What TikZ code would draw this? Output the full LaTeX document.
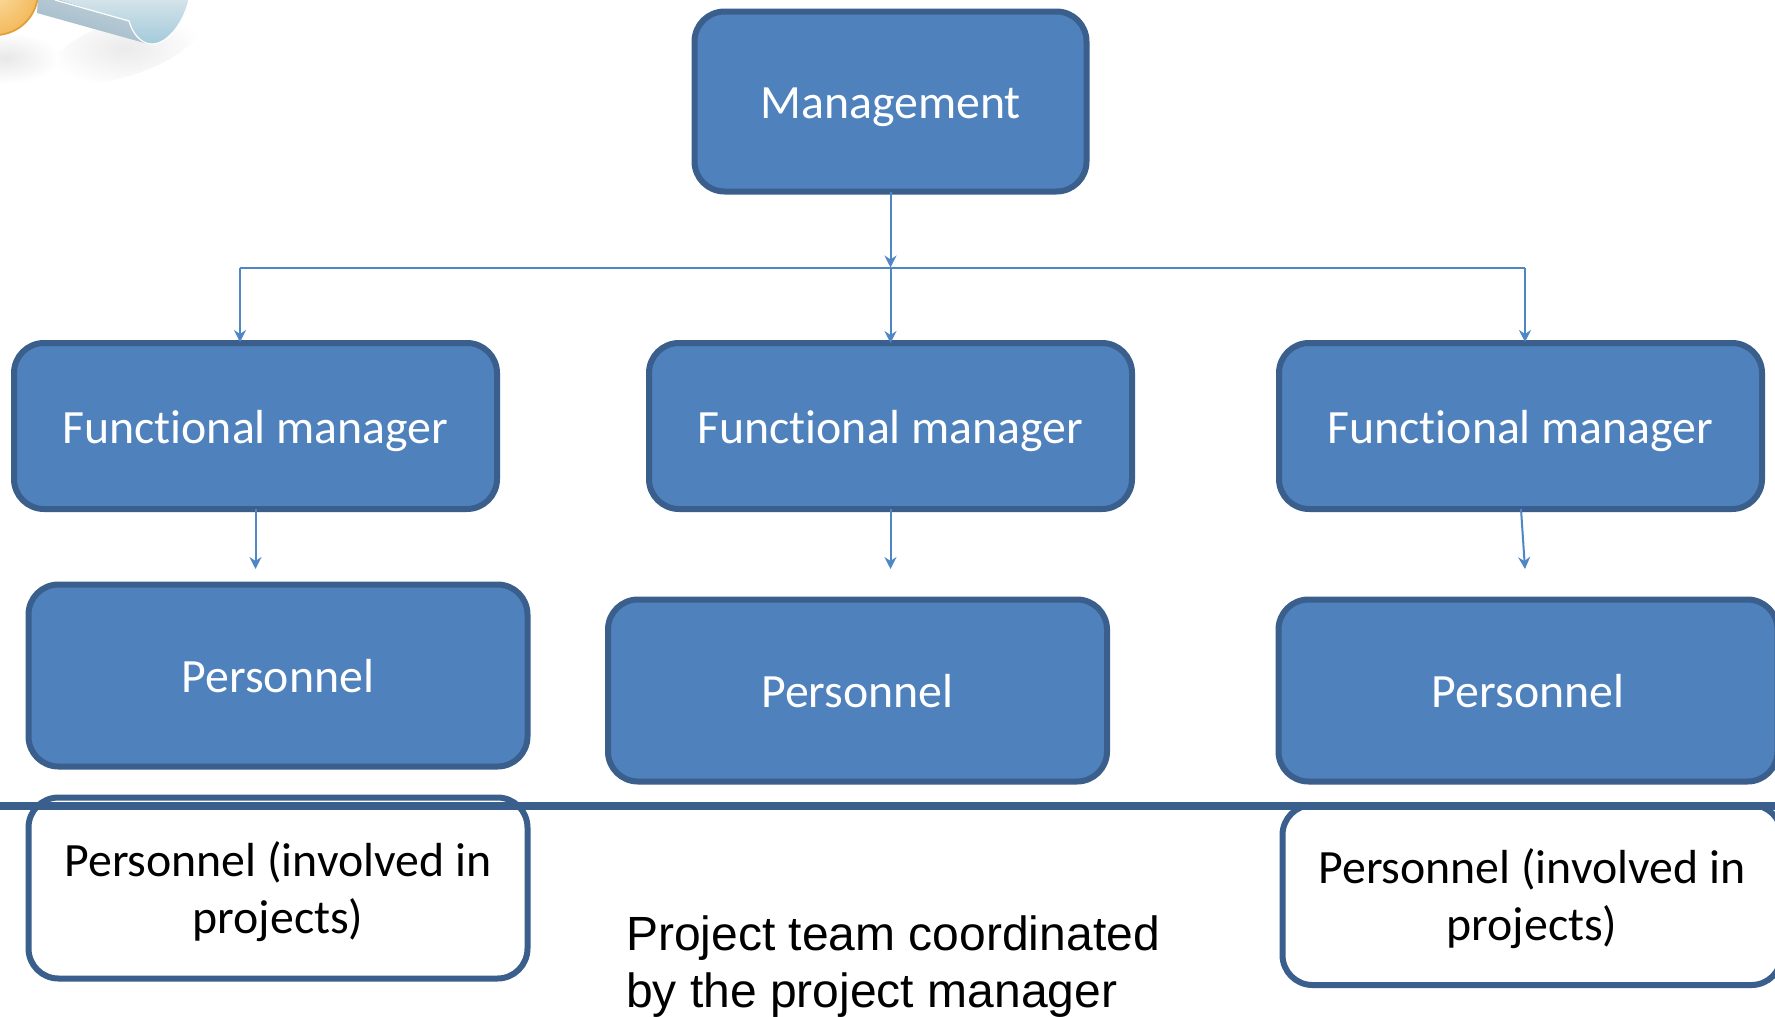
\documentclass[tikz,border=0pt]{standalone}
\usepackage{fontspec}
\setmainfont{Carlito}[Ligatures=NoCommon]
\newfontfamily\arialfont{Liberation Sans}
\usetikzlibrary{arrows.meta}
\definecolor{boxfill}{HTML}{4F81BD}
\definecolor{boxline}{HTML}{3A5F8C}
\definecolor{conn}{HTML}{4F86C6}
\definecolor{tubeA}{HTML}{D5E4EA}
\definecolor{tubeB}{HTML}{A3CADB}
\definecolor{bandA}{HTML}{C3D3DC}
\definecolor{bandB}{HTML}{9CB6C6}
\definecolor{coinA}{HTML}{FBDCA0}
\definecolor{coinB}{HTML}{F3B95C}
\definecolor{coinC}{HTML}{DD9E3C}
\tikzset{
  x=1pt,y=-1pt,
  basebox/.style={rectangle,rounded corners=30pt,line width=6pt,draw=boxline,outer sep=0pt,inner sep=0pt,align=center,font=\fontsize{47.8}{57}\selectfont},
  bluebox/.style={basebox,fill=boxfill,text=white,text height=34pt,text depth=0pt},
  whitebox/.style={basebox,fill=white,text=black},
  link/.style={draw=conn,line width=2pt,-{Stealth[length=12pt,width=12pt,inset=4pt]}},
  plain/.style={draw=conn,line width=2pt},
}
\begin{document}
\begin{tikzpicture}
\useasboundingbox (0,0) rectangle (1775,1017);
\clip (0,0) rectangle (1775,1017);
\fill[white] (0,0) rectangle (1775,1017);
% decorative clip-art corner
\shade[inner color=black!8,outer color=white,rotate around={18:(125,48)}] (125,48) ellipse (78 and 28);
\shade[inner color=black!9,outer color=white] (5,58) ellipse (55 and 26);
\shade[top color=bandA,bottom color=bandB,shading angle=-17] (38,-2) -- (55,-2) -- (129,21) .. controls (133,35) and (142,44) .. (152,44) -- (148,44) -- (37,13) -- cycle;
\shade[top color=tubeA,bottom color=tubeB] (55,-2) -- (129,21) .. controls (133,35) and (142,44) .. (152,44) .. controls (168,44) and (184,22) .. (189,-2) -- cycle;
\draw[white,line width=1.2pt] (55,0) -- (129,21) .. controls (133,35) and (142,44) .. (152,44) .. controls (168,44) and (184,22) .. (189,0);
\shade[inner color=coinA,outer color=coinB] (-5,-8) circle (44);
\draw[coinC,line width=1.5pt] (-5,-8) circle (43);
% boxes
\node[bluebox,minimum width=392pt,minimum height=180pt] (mgmt) at (890.5,101.5) {Management};
\node[bluebox,minimum width=483pt,minimum height=166pt] (fm1) at (255.5,426) {Functional manager};
\node[bluebox,minimum width=483pt,minimum height=166pt] (fm2) at (890.5,426) {Functional manager};
\node[bluebox,minimum width=483pt,minimum height=166pt] (fm3) at (1520.5,426) {Functional manager};
\node[bluebox,minimum width=499pt,minimum height=182pt] (p1) at (278,675.5) {Personnel};
\node[bluebox,minimum width=499pt,minimum height=182pt] (p2) at (857.5,690.5) {Personnel};
\node[bluebox,minimum width=499pt,minimum height=182pt] (p3) at (1528,690.5) {Personnel};
\node[whitebox,minimum width=499pt,minimum height=181pt] (w1) at (278,888) {\rule{0pt}{43pt}Personnel (involved in\\projects)};
\node[whitebox,minimum width=499pt,minimum height=180pt] (w3) at (1532,895) {\rule{0pt}{43pt}Personnel (involved in\\projects)};
% divider
\coordinate (divl) at (0,806);
\coordinate (divr) at (1775,806);
\draw[boxline,line width=8pt] (divl) -- (divr);
% bottom text
\node[anchor=north west,inner sep=0pt,align=left,font=\arialfont\fontsize{48}{57}\selectfont,text=black] (team) at (626,916) {Project team coordinated\\by the project manager};
% connectors
\coordinate (busl) at (240,267.5);
\coordinate (busm) at (890.5,267.5);
\coordinate (busr) at (1525,267.5);
\coordinate (a1) at (240,342);
\coordinate (a3) at (1525,342);
\draw[link] (mgmt.south) -- (busm);
\draw[plain] (busl) -- (busr);
\draw[link] (busl) -- (a1);
\draw[link] (busm) -- (fm2.north);
\draw[link] (busr) -- (a3);
\coordinate (e1) at (255.5,569);
\coordinate (e2) at (890.5,569);
\coordinate (s3) at (1521,509);
\coordinate (e3) at (1525,569);
\draw[link] (fm1.south) -- (e1);
\draw[link] (fm2.south) -- (e2);
\draw[link] (s3) -- (e3);
\end{tikzpicture}
\end{document}
